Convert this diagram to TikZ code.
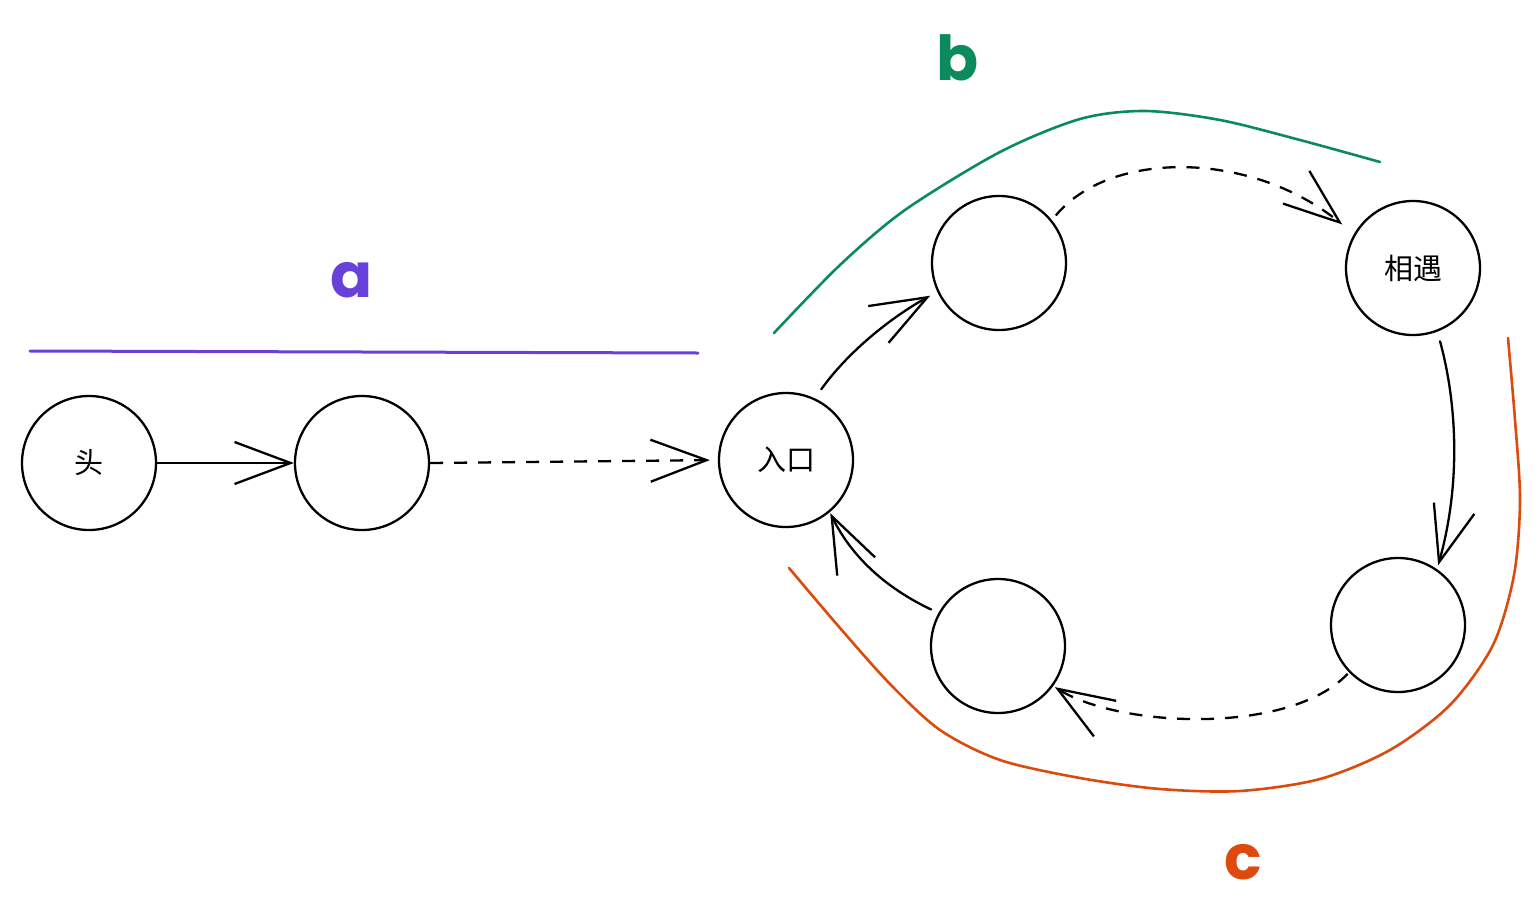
\documentclass[tikz,border=0pt]{standalone}
\usepackage{fontspec}
\usetikzlibrary{arrows.meta}
\newfontfamily\cjk{Noto Sans CJK SC}
\newfontfamily\lbl{Poppins}
\definecolor{cA}{HTML}{6741D9}
\definecolor{cB}{HTML}{0B8A5B}
\definecolor{cC}{HTML}{DC4A0E}
\tikzset{
  x=1pt, y=-1pt,
  listnode/.style={circle, draw, line width=2.3pt, minimum size=134pt, inner sep=0pt,
    font=\cjk\fontsize{29}{32}\selectfont},
  link/.style={line width=2.3pt, line cap=round, -{Straight Barb[length=56pt, width=42pt, line width=2.3pt]}},
  dashlink/.style={link, line cap=butt, dash pattern=on 13pt off 11pt},
  span/.style={line width=2.6pt, line cap=round},
  spanlabel/.style={font=\lbl\bfseries\fontsize{62}{64}\selectfont}
}
\begin{document}
\begin{tikzpicture}
\useasboundingbox (0,0) rectangle (1540,924);

% nodes
\node[listnode] (head) at (89,463) {头};
\node[listnode] (second) at (362,463) {};
\node[listnode] (entry) at (786,460) {入口};
\node[listnode] (top) at (999,263) {};
\node[listnode] (meet) at (1413,268) {相遇};
\node[listnode] (bright) at (1398,625) {};
\node[listnode] (bleft) at (998,646) {};

% connectors
\draw[link] (head.east) -- (second.west);
\draw[dashlink, shorten >=8pt] (second.east) -- (entry.west);
\draw[link, shorten <=11pt, shorten >=8pt] (entry.65) .. controls (848,352) and (890,318) .. (top.205);
\draw[dashlink, shorten <=6pt, shorten >=15pt] (top.39) .. controls (1110,150) and (1250,150) .. (meet.150);
\draw[link, shorten <=10pt, shorten >=4pt] (meet.291) .. controls (1456,400) and (1462,480) .. (bright.55);
\draw[dashlink, shorten <=2pt, shorten >=2pt] (bright.224) .. controls (1290,735) and (1120,728) .. (bleft.324);
\draw[link, shorten <=8pt, shorten >=1pt] (bleft.151) .. controls (890,590) and (853,560) .. (entry.310);

% span markers
\draw[span, cA, line width=3pt] (30,351) -- (698,353);
\draw[span, cB] plot[smooth, tension=0.5] coordinates {(774,333) (840,265) (905,210) (1000,152) (1080,119) (1145,111) (1220,120) (1300,140) (1380,162)};
\draw[span, cC] plot[smooth, tension=0.5] coordinates {(789,568) (840,628) (890,684) (940,730) (1000,760) (1080,778) (1160,789) (1240,791) (1320,779) (1390,750) (1450,705) (1493,645) (1514,575) (1520,500) (1515,420) (1508,338)};

% labels
\node[spanlabel, text=cA] (la) at (352,280) {a};
\node[spanlabel, text=cB] (lb) at (958,58) {b};
\node[spanlabel, text=cC] (lc) at (1243,862) {c};
\end{tikzpicture}
\end{document}
